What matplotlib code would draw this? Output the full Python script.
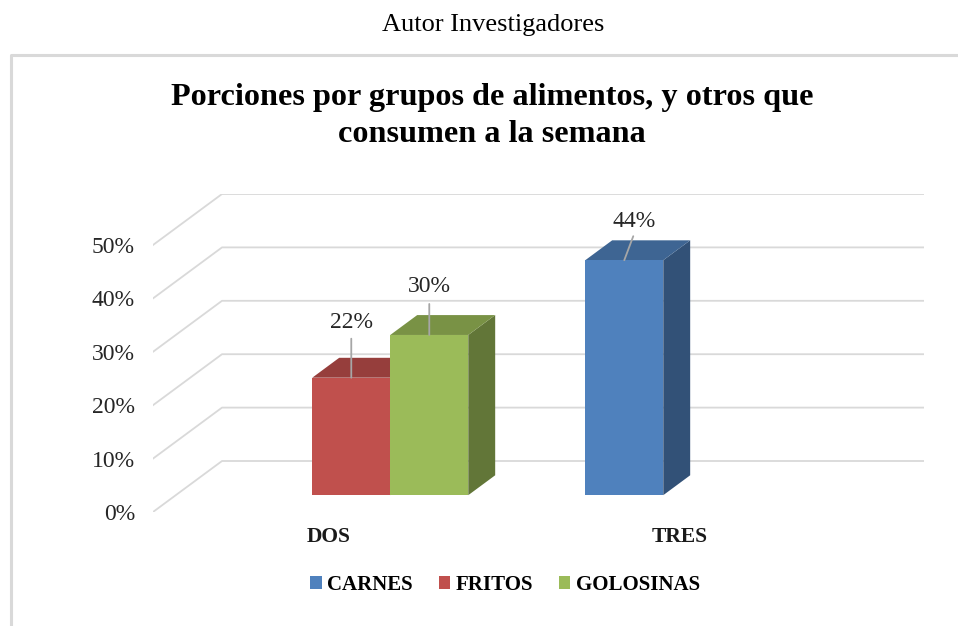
import matplotlib
matplotlib.use("Agg")
import matplotlib.pyplot as plt
from matplotlib.patches import Polygon, Patch
from matplotlib.lines import Line2D
import matplotlib.colors as mcolors

plt.rcParams['font.family'] = ['Liberation Serif', 'DejaVu Serif']

# data
categorias = ['DOS', 'TRES']
series = ['CARNES', 'FRITOS', 'GOLOSINAS']
carnes = [0, 44]
fritos = [22, 0]
golosinas = [30, 0]
valores = [carnes, fritos, golosinas]
yticks = [0, 10, 20, 30, 40, 50]

colores = ['#4F81BD', '#C0504D', '#9BBB59']

# oblique "3D" look: depth offset of the back wall in data units
DX = 0.1966
DY = 9.55
D0, D1 = 0.33, 0.72          # bar front / back depth
w = 1 / 4.5                  # bar width (gap width 150%)

def proj(x, y, d):
    return (x + d * DX, y + d * DY)

def shade(c, f):
    r, g, b = mcolors.to_rgb(c)
    return (r * f, g * f, b * f)

W, H = 958, 626
fig = plt.figure(figsize=(W / 100, H / 100), dpi=100)
ax = fig.add_axes([153 / W, 1 - 512 / H, (924 - 153) / W, (512 - 194) / H])
ax.set_xlim(0, len(categorias) + DX)
ax.set_ylim(0, yticks[-1] + DY)
for s in ax.spines.values():
    s.set_visible(False)

# gridlines: side wall diagonals + back wall
grid_c = '#D9D9D9'
for v in yticks:
    p0 = proj(0, v, 0)
    p1 = proj(0, v, 1)
    p2 = proj(len(categorias), v, 1)
    ax.plot([p0[0], p1[0], p2[0]], [p0[1], p1[1], p2[1]], color=grid_c, lw=1.3, zorder=1)

# label placement (pixels): label centre offset, leader end offset
label_pos = {(1, 0): ((0, 55), (0, 39)),
             (2, 0): ((0, 48), (0, 31)),
             (0, 1): ((10, 39), (9, 24))}

z = 2
for i in range(len(categorias)):
    for j, vals in enumerate(valores):
        v = vals[i]
        if v <= 0:
            continue
        xl = i + 0.75 * w + j * w
        xr = xl + w
        c = colores[j]
        side = [proj(xr, 0, D0), proj(xr, 0, D1), proj(xr, v, D1), proj(xr, v, D0)]
        top = [proj(xl, v, D0), proj(xr, v, D0), proj(xr, v, D1), proj(xl, v, D1)]
        front = [proj(xl, 0, D0), proj(xr, 0, D0), proj(xr, v, D0), proj(xl, v, D0)]
        ax.add_patch(Polygon(side, closed=True, fc=shade(c, 0.63), ec='none', zorder=z))
        ax.add_patch(Polygon(top, closed=True, fc=shade(c, 0.78), ec='none', zorder=z))
        ax.add_patch(Polygon(front, closed=True, fc=c, ec='none', zorder=z + 0.5))
        z += 1
        # data label with leader line
        (lx, ly), (ex, ey) = label_pos[(j, i)]
        anchor = proj((xl + xr) / 2, v, D0)
        ax.annotate('', xy=anchor, xytext=(ex * 0.72, ey * 0.72), textcoords='offset points',
                    arrowprops=dict(arrowstyle='-', color='#A6A6A6', lw=1.3,
                                    shrinkA=0, shrinkB=0), zorder=20)
        ax.annotate(f'{v}%', xy=anchor, xytext=(lx * 0.72, ly * 0.72), textcoords='offset points',
                    ha='center', va='center', fontsize=17, color='#262626', zorder=21)

ax.set_yticks(yticks)
ax.set_yticklabels([f'{v}%' for v in yticks], fontsize=17, color='#262626')
ax.set_xticks([k + 0.5 for k in range(len(categorias))])
ax.set_xticklabels(categorias, fontsize=15.5, fontweight='bold', color='#1a1a1a')
ax.tick_params(axis='y', length=0, pad=13)
ax.tick_params(axis='x', length=0, pad=11)

# titles
fig.text(493 / W, 1 - 25 / H, 'Autor Investigadores', ha='center', va='center', fontsize=19)
fig.text(492 / W, 1 - 116 / H, 'Porciones por grupos de alimentos, y otros que\nconsumen a la semana',
         ha='center', va='center', fontsize=23.2, fontweight='bold', linespacing=1.33)

# legend
handles = [Patch(facecolor=c, edgecolor='none') for c in colores]
fig.legend(handles, series, loc='center', bbox_to_anchor=(505 / W, 1 - 585 / H), ncol=3,
           frameon=False, handlelength=0.55, handleheight=0.55, handletextpad=0.25,
           columnspacing=1.25, prop={'weight': 'bold', 'size': 15})

# chart border (extends past right and bottom edges)
fig.add_artist(Line2D([11 / W, 11 / W, 1.0], [0.0, 1 - 55 / H, 1 - 55 / H],
                      transform=fig.transFigure, color='#D9D9D9', lw=2.2))

fig.savefig('out.png', dpi=100)
